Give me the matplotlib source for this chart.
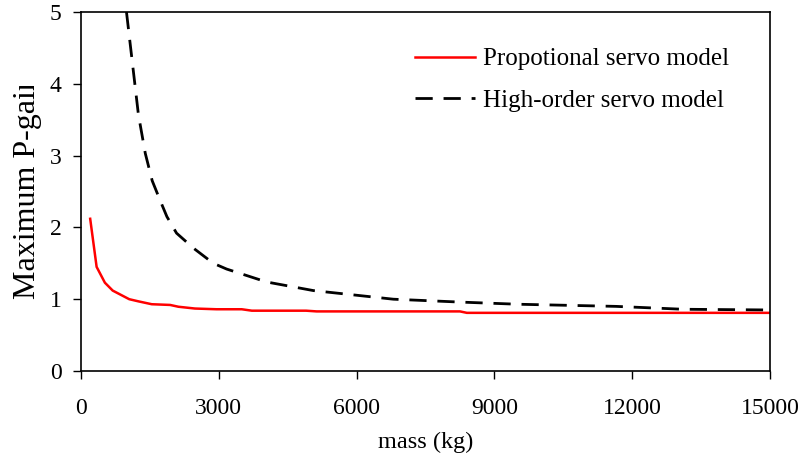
import matplotlib
matplotlib.use("Agg")
import matplotlib.pyplot as plt
from matplotlib.transforms import Bbox

plt.rcParams['font.family'] = ['Liberation Serif', 'DejaVu Serif']

mass_prop = [200, 340, 520, 690, 1050, 1250, 1540, 1940, 2120, 2480, 2950, 3500, 3720,
             4900, 5130, 8250, 8400, 15000]
gain_prop = [2.12, 1.45, 1.23, 1.12, 1.00, 0.97, 0.93, 0.92, 0.895, 0.87, 0.86, 0.86, 0.84,
             0.84, 0.83, 0.83, 0.81, 0.81]

mass_high = [990, 1250, 1400, 1550, 1720, 1870, 2080, 2450, 2880, 3170, 4040, 5060, 5930,
             6800, 8250, 9500, 11650, 13100, 15000]
gain_high = [5.0, 3.57, 3.03, 2.65, 2.38, 2.15, 1.92, 1.71, 1.50, 1.42, 1.24, 1.12, 1.06,
             1.00, 0.96, 0.93, 0.90, 0.86, 0.85]

x_ticks = [0, 3000, 6000, 9000, 12000, 15000]
y_ticks = [0, 1, 2, 3, 4, 5]

labels = ["Propotional servo model", "High-order servo model"]

fig = plt.figure(figsize=(8.03, 4.63), dpi=100)
ax = fig.add_axes([81/803, 92/463, 689/803, 359/463])

ax.plot(mass_prop, gain_prop, color='#ff0000', lw=1.8, label=labels[0])
ax.plot(mass_high, gain_high, color='black', lw=2.0, dashes=(6.2, 3.9), label=labels[1])

ax.set_xlim(0, 15000)
ax.set_ylim(0, 5)
ax.set_xticks(x_ticks)
ax.set_yticks(y_ticks)
ax.tick_params(axis='both', direction='out', length=5.5, width=1, labelsize=17)
ax.tick_params(axis='x', pad=14)
ax.tick_params(axis='y', pad=8.5)
for s in ax.spines.values():
    s.set_linewidth(1.2)

ax.set_xlabel("mass (kg)", fontsize=17.5)
ylab = ax.set_ylabel("Maximum P-gain", fontsize=23)
ax.xaxis.set_label_coords(0.5, -0.17)
ax.yaxis.set_label_coords(-0.056, 0.513)
ylab.set_clip_box(Bbox([[0, 0], [80, 463 - 86]]))
ylab.set_clip_on(True)

leg = ax.legend(loc='upper left', bbox_to_anchor=(0.485, 0.90), frameon=False,
                fontsize=18, handlelength=2.4, handletextpad=0.3, labelspacing=0.75,
                borderpad=0, borderaxespad=0)

fig.savefig("out.png", dpi=100)
